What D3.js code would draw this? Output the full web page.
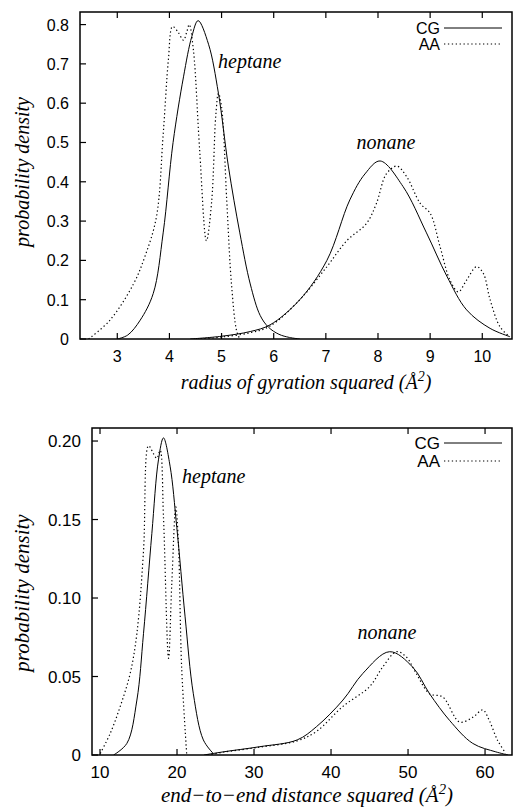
<!DOCTYPE html>
<html>
<head>
<meta charset="utf-8">
<script src="https://cdn.jsdelivr.net/npm/d3@7"></script>
<style>
  body { margin: 0; background: #fff; }
  svg { display: block; }
  .tick-label { font-family: "Liberation Sans", Arial, sans-serif; }
  .ital { font-family: "Liberation Serif", "Times New Roman", serif; font-style: italic; }
</style>
</head>
<body>
<div id="chart"></div>
<script>
// ---- data ----
// top panel: radius of gyration squared
const rgTicksX = [3, 4, 5, 6, 7, 8, 9, 10];
const rgTicksY = [0, 0.1, 0.2, 0.3, 0.4, 0.5, 0.6, 0.7, 0.8];
const rgHeptCG = [[3.0,0],[3.2,0.01],[3.44,0.048],[3.69,0.116],[3.88,0.27],[4.07,0.5],[4.27,0.667],[4.43,0.77],[4.55,0.81],[4.75,0.75],[4.94,0.625],[5.13,0.44],[5.35,0.27],[5.55,0.14],[5.74,0.06],[5.9,0.03],[6.1,0.012],[6.3,0.004],[6.5,0]];
const rgHeptAA = [[2.45,0],[2.86,0.048],[3.31,0.14],[3.53,0.21],[3.75,0.31],[3.88,0.52],[3.98,0.71],[4.06,0.795],[4.17,0.78],[4.27,0.76],[4.33,0.78],[4.38,0.8],[4.46,0.735],[4.58,0.48],[4.71,0.25],[4.81,0.35],[4.89,0.57],[4.94,0.625],[5.0,0.59],[5.1,0.35],[5.19,0.14],[5.29,0.02],[5.35,0]];
const rgNonCG = [[4.4,0],[5.0,0.007],[5.55,0.019],[5.93,0.036],[6.5,0.1],[7.02,0.2],[7.46,0.354],[7.75,0.42],[8.04,0.453],[8.48,0.388],[8.93,0.27],[9.32,0.16],[9.7,0.074],[10.15,0.027],[10.53,0.006]];
const rgNonAA = [[4.6,0],[5.0,0.005],[5.55,0.016],[5.93,0.033],[6.5,0.1],[7.02,0.184],[7.4,0.25],[7.78,0.294],[7.97,0.345],[8.16,0.42],[8.36,0.44],[8.55,0.413],[8.81,0.345],[9.0,0.32],[9.19,0.235],[9.38,0.15],[9.54,0.12],[9.7,0.15],[9.89,0.184],[10.02,0.167],[10.15,0.1],[10.34,0.031],[10.53,0.005]];

// bottom panel: end-to-end distance squared
const eeTicksX = [10, 20, 30, 40, 50, 60];
const eeTicksY = [0, 0.05, 0.10, 0.15, 0.20];
const eeHeptCG = [[11.76,0],[13.49,0.0074],[14.79,0.035],[15.65,0.0775],[16.73,0.141],[17.59,0.188],[18.24,0.202],[19.1,0.184],[19.97,0.145],[21.05,0.088],[22.12,0.039],[23.42,0.0096],[24.7,0.001]];
const eeHeptAA = [[10.04,0.001],[11.33,0.0138],[12.63,0.031],[13.92,0.052],[14.79,0.0775],[15.65,0.13],[16.3,0.197],[16.94,0.192],[17.38,0.189],[17.81,0.194],[18.24,0.152],[18.9,0.0616],[19.32,0.109],[19.84,0.158],[20.18,0.135],[20.6,0.056],[21.25,0.001]];
const eeNonCG = [[23.5,0],[26,0.002],[30.76,0.0053],[35.6,0.0096],[38.1,0.018],[41.55,0.035],[44.14,0.052],[47.6,0.0658],[50.6,0.056],[52.8,0.039],[55.4,0.022],[58.4,0.0074],[61.4,0.002],[63,0]];
const eeNonAA = [[24,0],[26,0.0018],[30.76,0.005],[35.6,0.009],[38.1,0.015],[41.55,0.031],[45.0,0.0435],[46.7,0.056],[48.5,0.0658],[49.75,0.0626],[51.05,0.052],[52.8,0.039],[54.5,0.037],[56.7,0.021],[58.4,0.024],[59.7,0.0287],[60.55,0.022],[61.6,0.0096],[62.7,0.001]];

const legendNames = ["CG", "AA"];

const W = 513, H = 810;
const svg = d3.select("#chart").append("svg").attr("width", W).attr("height", H);

function drawPanel(cfg){
    const x = d3.scaleLinear().domain(cfg.xDomain).range([cfg.left, cfg.right]);
    const y = d3.scaleLinear().domain(cfg.yDomain).range([cfg.bottom, cfg.top]);
    const g = svg.append("g");
    const tickLen = 6;

    // clip so curves stay inside the frame
    const clipId = "clip" + cfg.id;
    svg.append("clipPath").attr("id", clipId).append("rect")
        .attr("x", cfg.left).attr("y", cfg.top)
        .attr("width", cfg.right - cfg.left).attr("height", cfg.bottom - cfg.top);

    // x ticks (inward, bottom and top)
    cfg.xTicks.forEach(v => {
        g.append("line").attr("x1", x(v)).attr("x2", x(v))
            .attr("y1", cfg.bottom).attr("y2", cfg.bottom - tickLen)
            .attr("stroke", "#000").attr("stroke-width", 1.2);
        g.append("line").attr("x1", x(v)).attr("x2", x(v))
            .attr("y1", cfg.top).attr("y2", cfg.top + tickLen)
            .attr("stroke", "#000").attr("stroke-width", 1.2);
        g.append("text").attr("class", "tick-label")
            .attr("x", x(v)).attr("y", cfg.bottom + 23)
            .attr("text-anchor", "middle").style("font-size", cfg.tickFont + "px")
            .text(cfg.xFmt(v));
    });
    // y ticks
    cfg.yTicks.forEach(v => {
        g.append("line").attr("x1", cfg.left).attr("x2", cfg.left + tickLen)
            .attr("y1", y(v)).attr("y2", y(v))
            .attr("stroke", "#000").attr("stroke-width", 1.2);
        g.append("text").attr("class", "tick-label")
            .attr("x", cfg.left - 11).attr("y", y(v) + 6)
            .attr("text-anchor", "end").style("font-size", cfg.tickFont + "px")
            .text(cfg.yFmt(v));
    });

    const line = d3.line().x(d => x(d[0])).y(d => y(d[1])).curve(d3.curveCatmullRom.alpha(0.5));
    const curves = g.append("g").attr("clip-path", `url(#${clipId})`);
    cfg.solid.forEach(s => {
        curves.append("path").attr("d", line(s))
            .attr("fill", "none").attr("stroke", "#000").attr("stroke-width", 1);
    });
    cfg.dotted.forEach(s => {
        curves.append("path").attr("d", line(s))
            .attr("fill", "none").attr("stroke", "#000").attr("stroke-width", 1.2)
            .attr("stroke-dasharray", "1.3,2.6");
    });

    // frame
    g.append("rect").attr("x", cfg.left).attr("y", cfg.top)
        .attr("width", cfg.right - cfg.left).attr("height", cfg.bottom - cfg.top)
        .attr("fill", "none").attr("stroke", "#000").attr("stroke-width", 1.5);

    // legend
    legendNames.forEach((name, i) => {
        const ly = cfg.legendY + i * cfg.legendGap;
        g.append("text").attr("class", "tick-label")
            .attr("x", 440).attr("y", ly + 6).attr("text-anchor", "end")
            .style("font-size", cfg.tickFont + "px").text(name);
        g.append("line").attr("x1", 444).attr("x2", 502).attr("y1", ly).attr("y2", ly)
            .attr("stroke", "#000").attr("stroke-width", i === 0 ? 1 : 1.2)
            .attr("stroke-dasharray", i === 0 ? null : "1.3,2.6");
    });

    // curve labels
    cfg.notes.forEach(n => {
        g.append("text").attr("class", "ital")
            .attr("x", n.x).attr("y", n.y).attr("text-anchor", n.anchor)
            .style("font-size", "20px").text(n.text);
    });

    // axis titles
    g.append("text").attr("class", "ital")
        .attr("transform", `translate(29,${cfg.yLabelY}) rotate(-90)`)
        .attr("text-anchor", "middle").style("font-size", cfg.titleFont + "px")
        .text("probability density");
    const xl = g.append("text").attr("class", "ital")
        .attr("x", cfg.xLabelX).attr("y", cfg.xLabelY)
        .attr("text-anchor", "middle").style("font-size", cfg.titleFont + "px");
    xl.append("tspan").text(cfg.xTitle + " (Å");
    xl.append("tspan").attr("dy", -8).style("font-size", (cfg.titleFont * 0.7) + "px").text("2");
    xl.append("tspan").attr("dy", 8).text(")");
}

drawPanel({
    id: "rg",
    left: 80, right: 512, top: 12, bottom: 339,
    xDomain: [2.285, 10.57], yDomain: [0, 0.832],
    xTicks: rgTicksX, yTicks: rgTicksY,
    xFmt: d => d, yFmt: d => d === 0 ? "0" : d3.format(".1f")(d),
    solid: [rgHeptCG, rgNonCG], dotted: [rgHeptAA, rgNonAA],
    tickFont: 16, titleFont: 20,
    legendY: 28, legendGap: 16,
    notes: [{text: "heptane", x: 218, y: 68, anchor: "start"},
            {text: "nonane", x: 386, y: 149, anchor: "middle"}],
    yLabelY: 172, xLabelX: 306, xLabelY: 389,
    xTitle: "radius of gyration squared"
});

drawPanel({
    id: "ee",
    left: 92, right: 512, top: 428, bottom: 755,
    xDomain: [8.96, 63.5], yDomain: [0, 0.2083],
    xTicks: eeTicksX, yTicks: eeTicksY,
    xFmt: d => d, yFmt: d => d === 0 ? "0" : d3.format(".2f")(d),
    solid: [eeHeptCG, eeNonCG], dotted: [eeHeptAA, eeNonAA],
    tickFont: 17, titleFont: 21,
    legendY: 443, legendGap: 18,
    notes: [{text: "heptane", x: 182, y: 483, anchor: "start"},
            {text: "nonane", x: 387, y: 639, anchor: "middle"}],
    yLabelY: 593, xLabelX: 307, xLabelY: 802,
    xTitle: "end\u2212to\u2212end distance squared"
});
</script>
</body>
</html>
